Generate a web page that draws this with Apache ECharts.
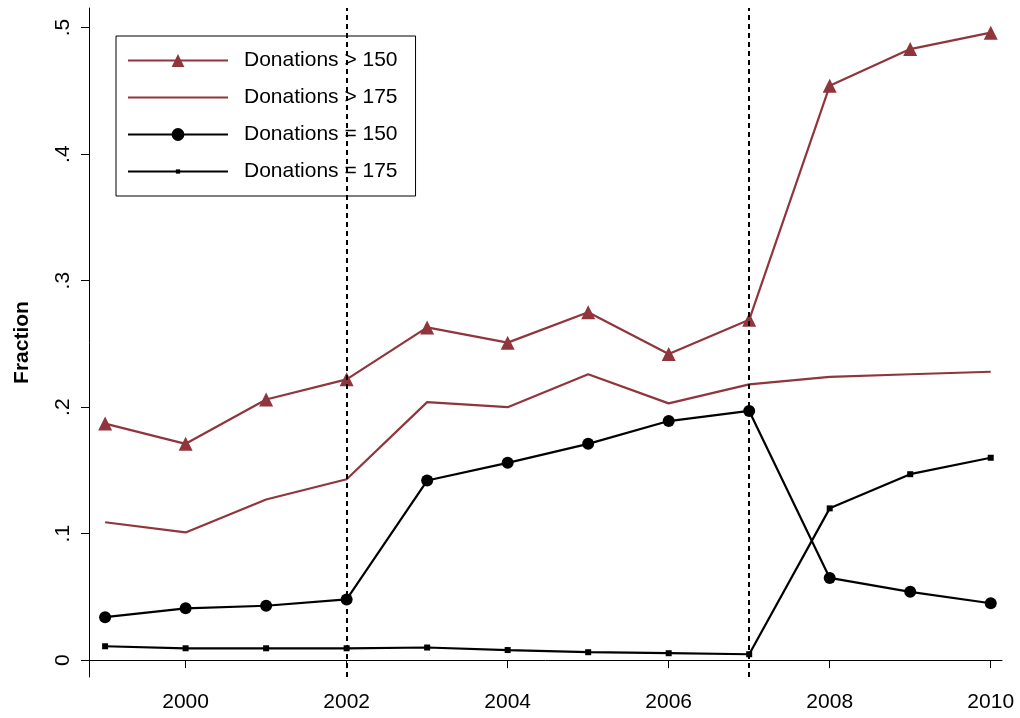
<!DOCTYPE html>
<html><head><meta charset="utf-8">
<script src="https://cdn.jsdelivr.net/npm/echarts@6/dist/echarts.min.js"></script>
<style>html,body{margin:0;padding:0;background:#fff}#c{width:1020px;height:718px}</style>
</head><body><div id="c"></div>
<script>
const years = [1999,2000,2001,2002,2003,2004,2005,2006,2007,2008,2009,2010];
const gt150 = [0.187,0.171,0.206,0.222,0.263,0.251,0.275,0.242,0.269,0.454,0.483,0.496];
const gt175 = [0.109,0.101,0.127,0.143,0.204,0.200,0.226,0.203,0.218,0.224,0.226,0.228];
const eq150 = [0.034,0.041,0.043,0.048,0.142,0.156,0.171,0.189,0.197,0.065,0.054,0.045];
const eq175 = [0.011,0.0094,0.0094,0.0094,0.010,0.008,0.0063,0.0055,0.0047,0.120,0.147,0.160];
const xTicks = [2000,2002,2004,2006,2008,2010];
const yTicks = [0,0.1,0.2,0.3,0.4,0.5];
const vLines = [2002,2007];
const names = ['Donations > 150','Donations > 175','Donations = 150','Donations = 175'];

const maroon = '#90353B';
const font = '"Liberation Sans", Arial, Helvetica, sans-serif';
const pair = arr => years.map((y,i)=>[y,arr[i]]);
// small square centred in a larger (invisible) bounding box
const smallSquare = 'path://M0 0M12 12M4 4h4v4h-4z';

const chart = echarts.init(document.getElementById('c'));
chart.setOption({
  animation:false,
  backgroundColor:'#fff',
  textStyle:{fontFamily:font},
  grid:{left:89,right:18,top:8,bottom:41},
  legend:{
    orient:'vertical',left:116,top:36,
    padding:[14,18,14,11],
    itemWidth:100,itemHeight:16,itemGap:16,
    borderColor:'#000',borderWidth:1,borderRadius:0,
    textStyle:{fontSize:21,color:'#000',fontFamily:font,padding:[0,0,0,11]},
    data:[
      {name:names[0]},
      {name:names[1],itemStyle:{opacity:0}},
      {name:names[2]},
      {name:names[3]}
    ]
  },
  xAxis:{
    type:'value',min:1998.8,max:2010.14,
    splitLine:{show:false},
    axisLine:{lineStyle:{color:'#000',width:1}},
    axisTick:{customValues:xTicks,length:8,lineStyle:{color:'#000'}},
    axisLabel:{customValues:xTicks,fontSize:21,color:'#000',margin:15,fontFamily:font,
      formatter:v=>String(v)}
  },
  yAxis:{
    type:'value',min:-0.0133,max:0.5155,
    name:'Fraction',nameLocation:'middle',nameGap:56,
    nameTextStyle:{fontSize:21,fontWeight:'bold',color:'#000',fontFamily:font},
    splitLine:{show:false},
    axisLine:{show:true,lineStyle:{color:'#000',width:1}},
    axisTick:{show:true,customValues:yTicks,length:8,lineStyle:{color:'#000'}},
    axisLabel:{customValues:yTicks,rotate:90,fontSize:21,color:'#000',margin:15,fontFamily:font,
      formatter:v=>v===0?'0':String(Math.round(v*10)/10).replace(/^0/,'')}
  },
  series:[
    {name:names[0],type:'line',data:pair(gt150),symbol:'triangle',symbolSize:14,
     lineStyle:{color:maroon,width:2.2},itemStyle:{color:maroon},
     markLine:{silent:true,symbol:'none',label:{show:false},
       lineStyle:{color:'#000',type:[5,4],width:2},
       data:vLines.map(v=>({xAxis:v}))}},
    {name:names[1],type:'line',data:pair(gt175),symbol:'none',showSymbol:false,
     lineStyle:{color:maroon,width:2.2},itemStyle:{color:maroon}},
    {name:names[2],type:'line',data:pair(eq150),symbol:'circle',symbolSize:12,
     lineStyle:{color:'#000',width:2.2},itemStyle:{color:'#000'}},
    {name:names[3],type:'line',data:pair(eq175),symbol:smallSquare,symbolSize:18,
     lineStyle:{color:'#000',width:2.2},itemStyle:{color:'#000'}}
  ]
});
</script></body></html>
